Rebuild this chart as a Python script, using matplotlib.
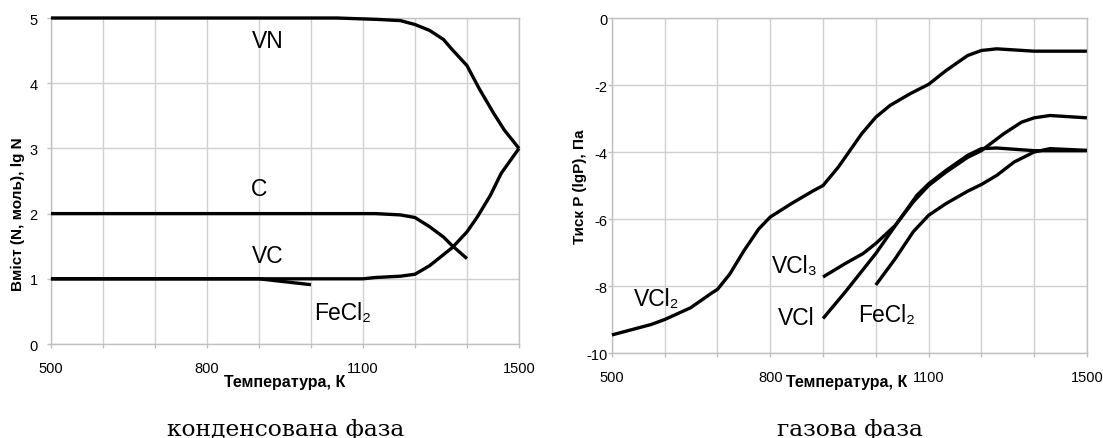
import numpy as np
import matplotlib.pyplot as plt

plt.rcParams['font.family'] = ['Liberation Sans', 'DejaVu Sans']
plt.rcParams['axes.unicode_minus'] = False

# category axis: 10 slots, labels every third slot
tick_pos = [0, 3, 6, 9]
tick_labels = ['500', '800', '1100', '1500']

# condensed phase (x in category slots)
vn_x = [0, 1, 2, 3, 4, 5, 5.5, 6.24, 6.72, 7.0, 7.28, 7.55, 7.7, 8.0, 8.24, 8.52, 8.72, 9.0]
vn_y = [5, 5, 5, 5, 5, 5, 5, 4.98, 4.96, 4.9, 4.81, 4.67, 4.53, 4.27, 3.91, 3.53, 3.28, 3.0]
c_x = [0, 1, 2, 3, 4, 5, 5.5, 6.24, 6.72, 7.0, 7.28, 7.55, 7.7, 8.0]
c_y = [2, 2, 2, 2, 2, 2, 2, 2.0, 1.98, 1.94, 1.8, 1.64, 1.52, 1.31]
vc_x = [0, 1, 2, 3, 4, 5, 6, 6.24, 6.72, 7.0, 7.28, 7.72, 8.0, 8.2, 8.45, 8.66, 9.0]
vc_y = [1, 1, 1, 1, 1, 1, 1.0, 1.02, 1.04, 1.07, 1.2, 1.48, 1.72, 1.95, 2.28, 2.62, 3.0]
fecl2_c_x = [0, 1, 2, 3, 4, 5]
fecl2_c_y = [1, 1, 1, 1, 1, 0.91]

# gas phase
vcl2_x = [0, 0.74, 1.0, 1.49, 1.9, 2.0, 2.23, 2.5, 2.78, 3.0, 3.4, 3.8, 4.0, 4.29, 4.49,
          4.73, 5.0, 5.27, 5.65, 6.0, 6.33, 6.74, 7.0, 7.29, 8.0, 9.0]
vcl2_y = [-9.46, -9.15, -9.0, -8.65, -8.2, -8.1, -7.65, -6.95, -6.3, -5.94, -5.54, -5.17,
          -5.0, -4.45, -4.0, -3.46, -2.96, -2.61, -2.26, -1.98, -1.57, -1.12, -0.97, -0.92,
          -0.99, -0.99]
vcl3_x = [4.0, 4.42, 4.76, 5.0, 5.37, 5.71, 6.0, 6.33, 6.74, 7.0, 7.42, 7.76, 8.0, 8.3, 9.0]
vcl3_y = [-7.73, -7.33, -7.03, -6.73, -6.19, -5.49, -5.0, -4.6, -4.16, -3.96, -3.46, -3.11,
          -2.98, -2.91, -2.98]
vcl_x = [4.0, 4.42, 5.0, 5.44, 5.78, 6.0, 6.33, 6.74, 7.0, 7.29, 8.0, 9.0]
vcl_y = [-8.97, -8.18, -7.03, -6.04, -5.29, -4.95, -4.55, -4.1, -3.9, -3.88, -3.96, -3.96]
fecl2_g_x = [5.0, 5.37, 5.71, 6.0, 6.33, 6.74, 7.0, 7.29, 7.62, 8.0, 8.3, 9.0]
fecl2_g_y = [-7.97, -7.18, -6.38, -5.89, -5.54, -5.17, -4.97, -4.7, -4.3, -4.0, -3.9, -3.95]

grid_c = '#d0d0d0'
lw = 2.4
label_fs = 16.5


def style_axes(ax, ylim, yticks, ypad):
    ax.set_xlim(0, 9)
    ax.set_ylim(*ylim)
    ax.set_xticks(range(10))
    ax.set_xticklabels([tick_labels[tick_pos.index(i)] if i in tick_pos else '' for i in range(10)])
    ax.set_yticks(yticks)
    ax.grid(True, color=grid_c, linewidth=1)
    ax.set_axisbelow(True)
    for s in ax.spines.values():
        s.set_color('#c0c0c0')
        s.set_linewidth(1)
    ax.tick_params(axis='both', length=3, width=1, color='#c0c0c0', labelsize=10.5)
    ax.tick_params(axis='x', pad=9.5)
    ax.tick_params(axis='y', pad=ypad)


def draw(ax, series):
    for x, y in series:
        ax.plot(x, y, color='black', linewidth=lw, solid_joinstyle='round',
                solid_capstyle='butt', clip_on=False, zorder=3)


fig = plt.figure(figsize=(11.03, 4.39), dpi=100)
ax1 = fig.add_axes([0.0462, 0.2141, 0.4243, 0.7426])
ax2 = fig.add_axes([0.5548, 0.1936, 0.4306, 0.7631])

style_axes(ax1, (0, 5), range(0, 6), 6.5)
draw(ax1, [(vn_x, vn_y), (c_x, c_y), (vc_x, vc_y), (fecl2_c_x, fecl2_c_y)])
ax1.set_xlabel('Температура, К', fontsize=11.5, fontweight='bold', va='center')
ax1.xaxis.set_label_coords(0.5, -0.115)
ax1.set_ylabel('Вміст (N, моль), lg N', fontsize=11, fontweight='bold', va='center')
ax1.yaxis.set_label_coords(-0.0705, 0.402)
ax1.text(4.17, 4.65, 'VN', fontsize=label_fs, ha='center', va='center')
ax1.text(4.0, 2.38, 'C', fontsize=label_fs, ha='center', va='center')
ax1.text(4.17, 1.36, 'VC', fontsize=label_fs, ha='center', va='center')
ax1.text(5.6, 0.49, 'FeCl₂', fontsize=label_fs, ha='center', va='center')

style_axes(ax2, (-10, 0), range(-10, 1, 2), 0)
draw(ax2, [(vcl2_x, vcl2_y), (vcl3_x, vcl3_y), (vcl_x, vcl_y), (fecl2_g_x, fecl2_g_y)])
ax2.set_xlabel('Температура, К', fontsize=11.5, fontweight='bold', va='center')
ax2.xaxis.set_label_coords(0.495, -0.085)
ax2.set_ylabel('Тиск P (lgP), Па', fontsize=11, fontweight='bold', va='center')
ax2.yaxis.set_label_coords(-0.0674, 0.4985)
ax2.text(0.85, -8.37, 'VCl₂', fontsize=label_fs, ha='center', va='center')
ax2.text(3.46, -7.38, 'VCl₃', fontsize=label_fs, ha='center', va='center')
ax2.text(3.5, -8.93, 'VCl', fontsize=label_fs, ha='center', va='center')
ax2.text(5.21, -8.85, 'FeCl₂', fontsize=label_fs, ha='center', va='center')

fig.text(286 / 1103, 1 - 436 / 439, 'конденсована фаза', fontsize=16.8,
         family='DejaVu Serif', ha='center', va='baseline')
fig.text(850 / 1103, 1 - 436 / 439, 'газова фаза', fontsize=16.8,
         family='DejaVu Serif', ha='center', va='baseline')

fig.savefig('out.png', dpi=100)
